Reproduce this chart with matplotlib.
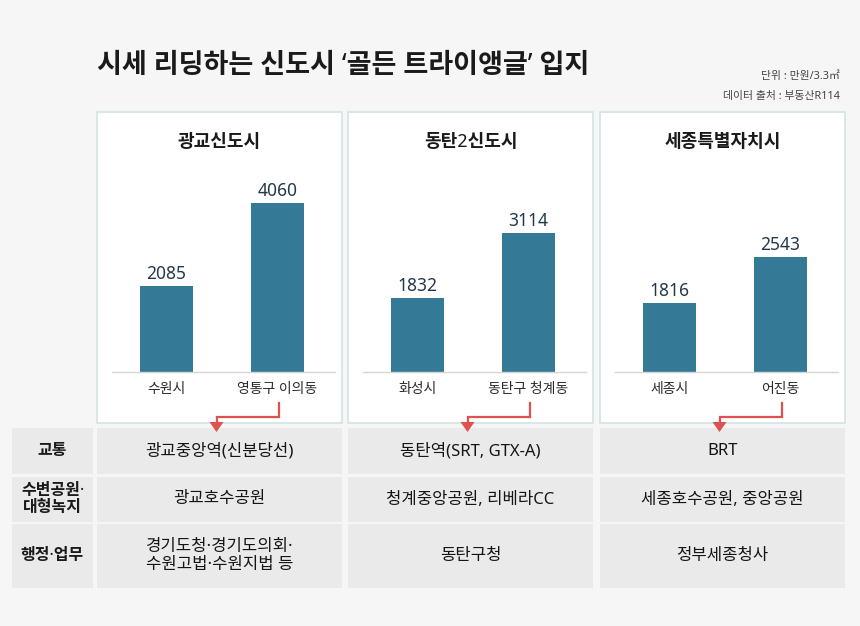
import matplotlib.pyplot as plt
from matplotlib.patches import Rectangle, Polygon

plt.rcParams['font.family'] = ['Noto Sans', 'Noto Sans CJK KR', 'DejaVu Sans']

# 데이터
cities = ['광교신도시', '동탄2신도시', '세종특별자치시']
areas = [['수원시', '영통구 이의동'], ['화성시', '동탄구 청계동'], ['세종시', '어진동']]
prices = [[2085, 4060], [1832, 3114], [1816, 2543]]
row_labels = ['교통', '수변공원·\n대형녹지', '행정·업무']
transport = ['광교중앙역(신분당선)', '동탄역(SRT, GTX-A)', 'BRT']
parks = ['광교호수공원', '청계중앙공원, 리베라CC', '세종호수공원, 중앙공원']
offices = ['경기도청·경기도의회·\n수원고법·수원지법 등', '동탄구청', '정부세종청사']
title = '시세 리딩하는 신도시 ‘골든 트라이앵글’ 입지'
unit_text = '단위 : 만원/3.3㎡'
source_text = '데이터 출처 : 부동산R114'

# 레이아웃 (픽셀 기준)
W, H = 860, 626
panel_x = [97, 348, 600]
panel_w = 245
panel_top, panel_bot = 112, 423
ax_top, ax_base = 150, 372
row_y = [(428, 474), (477, 522), (524, 588)]
label_col = (12, 93)
ylims = [(39, 5325), (372, 4751), (726, 4233)]

BG = '#f6f6f6'
BAR = '#347a96'
CELL = '#eaeaea'
BORDER = '#d3e3e3'
RED = '#e0504f'


def fig_rect(x0, y0, x1, y1):
    return [x0 / W, 1 - y1 / H, (x1 - x0) / W, (y1 - y0) / H]


fig = plt.figure(figsize=(W / 100, H / 100), dpi=100, facecolor=BG)

bg = fig.add_axes([0, 0, 1, 1], zorder=0)
bg.set_xlim(0, W)
bg.set_ylim(H, 0)
bg.axis('off')

# 제목
bg.text(97, 66, title, fontsize=19.5, fontweight='bold', color='#1a1a1a',
        ha='left', va='center')
bg.text(840, 76, unit_text, fontsize=7.8, color='#444444', ha='right', va='center')
bg.text(840, 96, source_text, fontsize=7.8, color='#444444', ha='right', va='center')

# 패널 + 막대
for i, x0 in enumerate(panel_x):
    bg.add_patch(Rectangle((x0, panel_top), panel_w, panel_bot - panel_top,
                           facecolor='white', edgecolor=BORDER, lw=1.2, zorder=1))
    bg.text(x0 + panel_w / 2, 142, cities[i], fontsize=13, fontweight='bold',
            color='#1a1a1a', ha='center', va='center', zorder=2)

    ax = fig.add_axes(fig_rect(x0 + 15, ax_top, x0 + 15 + 223, ax_base), zorder=2)
    ax.patch.set_alpha(0)
    bars = ax.bar([0, 1], prices[i], width=0.477, color=BAR)
    ax.set_xlim(-0.491, 1.518)
    ax.set_ylim(*ylims[i])
    for b, v in zip(bars, prices[i]):
        ax.annotate(f'{v}', (b.get_x() + b.get_width() / 2, v), xytext=(0, 2),
                    textcoords='offset points', ha='center', va='bottom',
                    fontsize=12.5, color='#23394a')
    ax.set_xticks([0, 1])
    ax.set_xticklabels(areas[i], fontsize=10, color='#2a2a2a')
    ax.tick_params(axis='x', length=0, pad=7)
    ax.set_yticks([])
    for s in ['top', 'left', 'right']:
        ax.spines[s].set_visible(False)
    ax.spines['bottom'].set_color('#d5d5d5')
    ax.spines['bottom'].set_linewidth(1)

    # 빨간 화살표
    sx = x0 + 181.5
    ex = x0 + panel_w / 2 - 3
    bg.plot([sx, sx, ex, ex], [403, 417, 417, 424], color=RED, lw=1.6,
            solid_joinstyle='miter', zorder=5)
    bg.add_patch(Polygon([[ex - 7, 422], [ex + 7, 422], [ex, 432]], closed=True,
                         facecolor=RED, edgecolor='none', zorder=5))

# 표
table = [transport, parks, offices]
for r, (y0, y1) in enumerate(row_y):
    bg.add_patch(Rectangle((label_col[0], y0), label_col[1] - label_col[0], y1 - y0,
                           facecolor=CELL, edgecolor='none', zorder=1))
    bg.text((label_col[0] + label_col[1]) / 2, (y0 + y1) / 2, row_labels[r],
            fontsize=11.5, fontweight='bold', color='#1a1a1a', ha='center',
            va='center', linespacing=1.1, zorder=2)
    for c, x0 in enumerate(panel_x):
        bg.add_patch(Rectangle((x0, y0), panel_w, y1 - y0, facecolor=CELL,
                               edgecolor='none', zorder=1))
        bg.text(x0 + panel_w / 2, (y0 + y1) / 2, table[r][c], fontsize=12,
                color='#151515', ha='center', va='center',
                linespacing=1.1, zorder=2)

fig.savefig('out.png', dpi=100, facecolor=BG)
